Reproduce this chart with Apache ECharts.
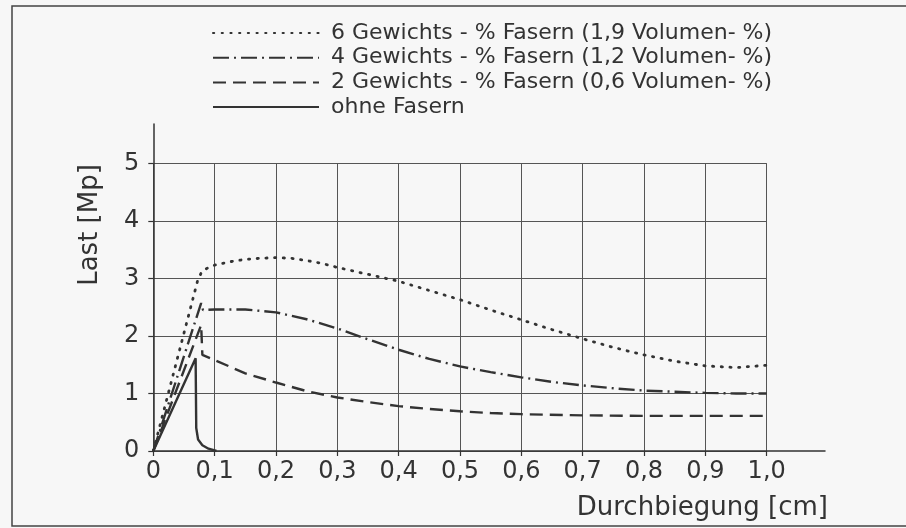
<!DOCTYPE html>
<html>
<head>
<meta charset="utf-8">
<script src="https://cdn.jsdelivr.net/npm/echarts@6/dist/echarts.min.js"></script>
<style>html,body{margin:0;padding:0;background:#f7f7f7}#c{width:906px;height:528px}</style>
</head>
<body>
<div id="c"></div>
<script>
// Series names (legend)
const seriesNames = [
  '6 Gewichts - % Fasern (1,9 Volumen- %)',
  '4 Gewichts - % Fasern (1,2 Volumen- %)',
  '2 Gewichts - % Fasern (0,6 Volumen- %)',
  'ohne Fasern'
];
// 6 Gewichts-% (dotted)
const x6 = [0, 0.072, 0.079, 0.09, 0.1, 0.125, 0.15, 0.175, 0.2, 0.225, 0.25, 0.275, 0.3, 0.35, 0.4, 0.45, 0.5, 0.55, 0.6, 0.65, 0.7, 0.75, 0.8, 0.85, 0.9, 0.95, 1.0];
const y6 = [0, 2.95, 3.12, 3.19, 3.23, 3.29, 3.33, 3.35, 3.36, 3.35, 3.31, 3.26, 3.19, 3.07, 2.95, 2.79, 2.63, 2.45, 2.28, 2.11, 1.95, 1.8, 1.67, 1.56, 1.48, 1.45, 1.49];
// 4 Gewichts-% (dash-dot)
const x4 = [0, 0.078, 0.081, 0.1, 0.15, 0.2, 0.25, 0.3, 0.35, 0.4, 0.45, 0.5, 0.55, 0.6, 0.65, 0.7, 0.75, 0.8, 0.85, 0.9, 0.95, 1.0];
const y4 = [0, 2.57, 2.45, 2.46, 2.46, 2.41, 2.29, 2.13, 1.94, 1.76, 1.6, 1.47, 1.37, 1.28, 1.2, 1.14, 1.09, 1.05, 1.03, 1.01, 1.0, 1.0];
// 2 Gewichts-% (dashed)
const x2 = [0, 0.078, 0.08, 0.1, 0.15, 0.2, 0.25, 0.3, 0.35, 0.4, 0.45, 0.5, 0.55, 0.6, 0.7, 0.8, 0.9, 1.0];
const y2 = [0, 2.19, 1.67, 1.58, 1.35, 1.19, 1.04, 0.93, 0.85, 0.78, 0.73, 0.69, 0.66, 0.64, 0.62, 0.61, 0.61, 0.61];
// ohne Fasern (solid)
const x0 = [0, 0.069, 0.07, 0.073, 0.08, 0.09, 0.103];
const y0 = [0, 1.61, 0.4, 0.2, 0.1, 0.04, 0];
// Tick labels
const xTicks = ['0', '0,1', '0,2', '0,3', '0,4', '0,5', '0,6', '0,7', '0,8', '0,9', '1,0'];
const yTicks = ['0', '1', '2', '3', '4', '5'];

const pairs = (xs, ys) => xs.map((v, i) => [v, ys[i]]);
const FONT = 'DejaVu Sans';
const INK = '#333';
const lineTypes = [[1.2, 7.5], [16, 5, 2, 5], [13, 7], 'solid'];
const dataSets = [pairs(x6, y6), pairs(x4, y4), pairs(x2, y2), pairs(x0, y0)];

const chart = echarts.init(document.getElementById('c'));
chart.setOption({
  backgroundColor: '#f7f7f7',
  animation: false,
  legend: {
    orient: 'vertical',
    left: 207,
    top: 17,
    itemWidth: 106,
    itemHeight: 14,
    itemGap: 2.7,
    data: seriesNames,
    itemStyle: { opacity: 0 },
    textStyle: { fontFamily: FONT, fontSize: 22, color: INK, lineHeight: 22, padding: [0, 0, 0, 7] }
  },
  grid: [
    { left: 153.3, right: 139.3, top: 163.3, bottom: 77 },
    { left: 153.3, right: 81, top: 124, bottom: 77 }
  ],
  xAxis: [
    {
      type: 'value', gridIndex: 0, min: 0, max: 1, interval: 0.1,
      axisLine: { show: false },
      axisTick: { show: true, length: 5, lineStyle: { color: INK, width: 1.2 } },
      axisLabel: {
        margin: 9, fontFamily: FONT, fontSize: 24, color: INK,
        formatter: v => xTicks[Math.round(v * 10)]
      },
      splitLine: { show: true, lineStyle: { color: '#555', width: 1 } }
    },
    {
      type: 'value', gridIndex: 1, min: 0, max: 1,
      axisLine: { show: true, lineStyle: { color: INK, width: 1.5 } },
      axisTick: { show: false }, axisLabel: { show: false }, splitLine: { show: false }
    }
  ],
  yAxis: [
    {
      type: 'value', gridIndex: 0, min: 0, max: 5, interval: 1,
      axisLine: { show: false },
      axisTick: { show: true, length: 5, lineStyle: { color: INK, width: 1.2 } },
      axisLabel: {
        margin: 14, fontFamily: FONT, fontSize: 24, color: INK,
        formatter: v => yTicks[Math.round(v)]
      },
      splitLine: { show: true, lineStyle: { color: '#555', width: 1 } }
    },
    {
      type: 'value', gridIndex: 1, min: 0, max: 1,
      axisLine: { show: true, lineStyle: { color: INK, width: 1.5 } },
      axisTick: { show: false }, axisLabel: { show: false }, splitLine: { show: false }
    }
  ],
  graphic: [
    { type: 'rect', shape: { x: 12, y: 6, width: 1000, height: 520 }, style: { fill: 'none', stroke: '#444', lineWidth: 1.5 }, silent: true },
    { type: 'text', x: 90, y: 225, rotation: Math.PI / 2, style: { text: 'Last [Mp]', fontFamily: FONT, fontSize: 26, fill: INK, align: 'center', verticalAlign: 'middle' } },
    { type: 'text', x: 828, y: 508, style: { text: 'Durchbiegung [cm]', fontFamily: FONT, fontSize: 26, fill: INK, align: 'right', verticalAlign: 'middle' } }
  ],
  series: seriesNames.map((name, i) => ({
    name, type: 'line', xAxisIndex: 0, yAxisIndex: 0,
    data: dataSets[i], symbol: 'none', smooth: false,
    lineStyle: { color: '#333', width: i === 0 ? 2.8 : 2.4, type: lineTypes[i], cap: i === 0 ? 'round' : 'butt' },
    itemStyle: { color: '#333' }
  }))
});
</script>
</body>
</html>
